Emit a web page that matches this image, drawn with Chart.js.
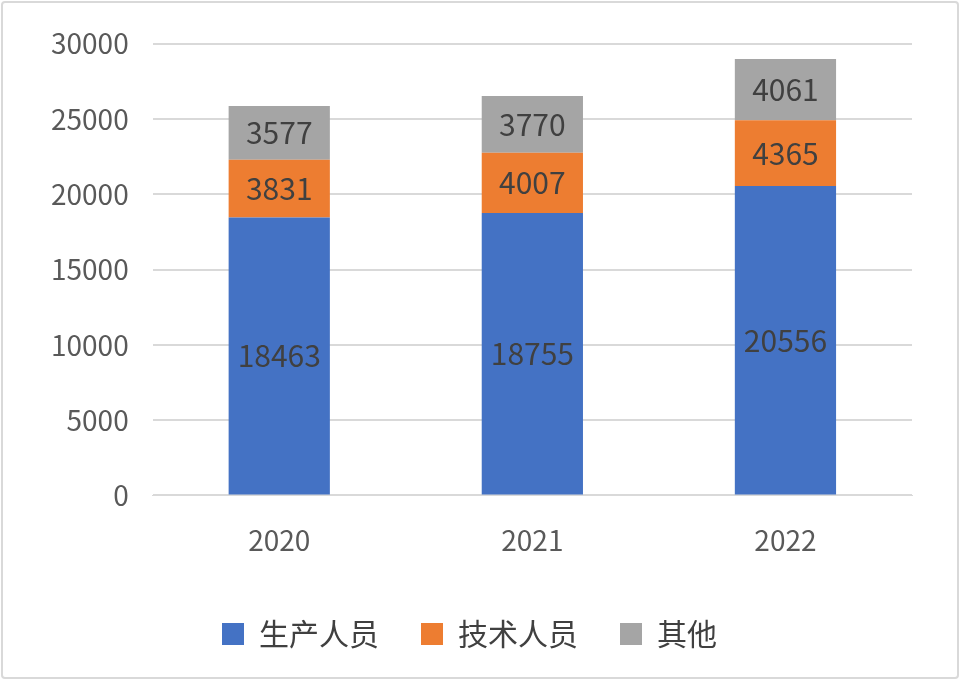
<!DOCTYPE html>
<html lang="zh">
<head>
<meta charset="UTF-8" />
<title>人员构成</title>
<script src="https://cdn.jsdelivr.net/npm/chart.js@4"></script>
<style>
  body { margin: 0; background: #fff; }
  #wrap { width: 954px; height: 674px; border: 2px solid #d9d9d9; border-radius: 4px; margin: 1px; }
</style>
</head>
<body>
<div id="wrap"><canvas id="myChart" width="954" height="674"></canvas></div>
<script>
const years = ['2020', '2021', '2022'];
const production = [18463, 18755, 20556];
const technical = [3831, 4007, 4365];
const others = [3577, 3770, 4061];
const FONT = '"Noto Sans CJK SC", "Noto Sans", sans-serif';

// labels in the middle of each segment
const barLabels = {
  id: 'barLabels',
  afterDatasetsDraw(chart) {
    const ctx = chart.ctx;
    ctx.save();
    ctx.font = '30px ' + FONT;
    ctx.fillStyle = '#404040';
    ctx.textAlign = 'center';
    ctx.textBaseline = 'middle';
    chart.data.datasets.forEach((ds, i) => {
      chart.getDatasetMeta(i).data.forEach((bar, j) => {
        const mid = (bar.y + bar.base) / 2;
        ctx.fillText(ds.data[j], bar.x, mid);
      });
    });
    ctx.restore();
  }
};

const barOpts = { categoryPercentage: 0.8, barPercentage: 0.5 };

const ctx = document.getElementById('myChart').getContext('2d');
new Chart(ctx, {
  type: 'bar',
  data: {
    labels: years,
    datasets: [
      { label: '生产人员', data: production, backgroundColor: '#4472c4', ...barOpts },
      { label: '技术人员', data: technical, backgroundColor: '#ed7d31', ...barOpts },
      { label: '其他', data: others, backgroundColor: '#a5a5a5', ...barOpts }
    ]
  },
  options: {
    responsive: false,
    animation: false,
    layout: { padding: { left: 24, right: 45, top: 40, bottom: 18 } },
    plugins: {
      legend: {
        position: 'bottom',
        labels: { font: { size: 30, family: FONT }, color: '#404040', boxWidth: 22, boxHeight: 22, padding: 42 }
      },
      tooltip: { enabled: false }
    },
    scales: {
      x: {
        stacked: true,
        grid: { display: false },
        border: { color: '#d9d9d9' },
        ticks: { font: { size: 28, family: FONT }, color: '#595959', padding: 20 }
      },
      y: {
        stacked: true,
        min: 0,
        max: 30000,
        ticks: {
          stepSize: 5000,
          font: { size: 28, family: FONT },
          color: '#595959',
          padding: 24,
          callback: v => String(v)
        },
        grid: { color: '#d9d9d9', lineWidth: 2, drawTicks: false },
        border: { display: false }
      }
    }
  },
  plugins: [barLabels]
});
</script>
</body>
</html>
